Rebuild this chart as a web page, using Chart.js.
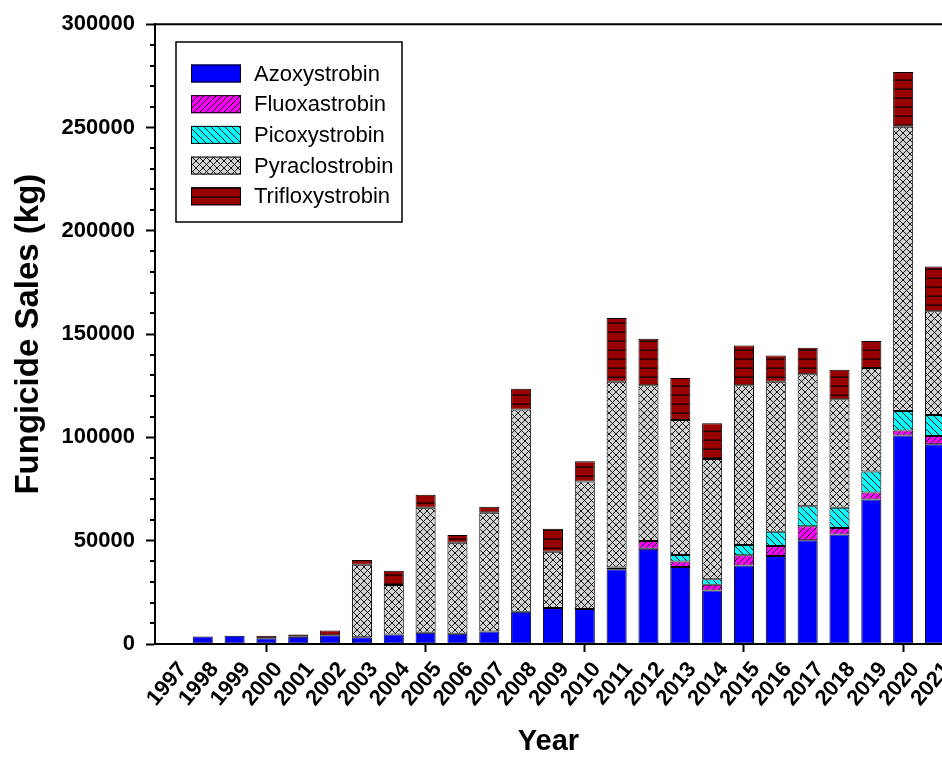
<!DOCTYPE html>
<html>
<head>
<meta charset="utf-8">
<script src="https://cdn.jsdelivr.net/npm/chart.js@4.4.1/dist/chart.umd.min.js"></script>
<style>
html,body{margin:0;padding:0;background:#fff;overflow:hidden}
#wrap{width:942px;height:782px;position:relative}
</style>
</head>
<body>
<div id="wrap"><canvas id="c" width="942" height="782"></canvas></div>
<script>
const years = [1997,1998,1999,2000,2001,2002,2003,2004,2005,2006,2007,2008,2009,2010,2011,2012,2013,2014,2015,2016,2017,2018,2019,2020,2021];
const azoxystrobin   = [0,3600,4000,2800,3500,4200,3300,4600,5500,5000,6000,15600,17400,16900,36200,46100,37300,25900,38000,42600,50200,53000,69900,100900,96700];
const fluoxastrobin  = [0,0,0,0,0,0,0,0,0,0,0,0,0,0,800,3700,2600,2750,5000,4800,6800,3200,3400,2500,4000];
const picoxystrobin  = [0,0,0,0,0,0,0,0,0,0,0,0,0,0,0,0,3200,2750,4900,6900,9700,9700,10200,9400,10100];
const pyraclostrobin = [0,0,0,0,0,0,35000,24000,60400,44000,57500,97900,27300,61800,89900,75500,65300,58200,77400,72600,63900,52600,50100,137600,50300];
const trifloxystrobin= [0,0,0,1200,1100,2300,2400,6800,6400,3700,2900,10100,11100,9700,30900,22400,20400,17200,19200,12800,12800,14300,13000,26500,21600];
const yTicks = [0,50000,100000,150000,200000,250000,300000];

const FONT = '"Liberation Sans", Arial, Helvetica, sans-serif';
const helper = document.createElement('canvas').getContext('2d');
function makePattern(bg, size, draw) {
  const c = document.createElement('canvas');
  c.width = size; c.height = size;
  const g = c.getContext('2d');
  g.fillStyle = bg; g.fillRect(0, 0, size, size);
  g.strokeStyle = '#000'; g.fillStyle = '#000'; g.lineWidth = 1;
  draw(g, size);
  return helper.createPattern(c, 'repeat');
}
function fwd(g, s) { g.beginPath(); g.moveTo(-1, s + 1); g.lineTo(s + 1, -1); g.moveTo(-1, 1); g.lineTo(1, -1); g.moveTo(s - 1, s + 1); g.lineTo(s + 1, s - 1); g.stroke(); }
function back(g, s) { g.beginPath(); g.moveTo(-1, -1); g.lineTo(s + 1, s + 1); g.moveTo(s - 1, -1); g.lineTo(s + 1, 1); g.moveTo(-1, s - 1); g.lineTo(1, s + 1); g.stroke(); }

const patBlue = '#0000FF';
const patMagenta = makePattern('#FF00FF', 6, fwd);
const patCyan = makePattern('#00FFFF', 7, back);
const patGray = makePattern('#D3D3D3', 7, (g, s) => { g.lineWidth = 0.9; fwd(g, s); back(g, s); });
const patRed = makePattern('#990000', 9, (g, s) => { g.fillStyle = '#2a0000'; g.fillRect(0, s - 1.6, s, 1.6); });

const nz = a => a.map(v => v === 0 ? null : v);
const barStyle = { borderColor: '#000', borderWidth: 1, borderSkipped: false, inflateAmount: 0, categoryPercentage: 1, barPercentage: 0.63 };

const legendPlugin = {
  id: 'boxLegend',
  afterDraw(chart) {
    const ctx = chart.ctx;
    ctx.save();
    ctx.strokeStyle = '#000'; ctx.lineWidth = 1.5;
    ctx.strokeRect(176, 42, 226, 180);
    chart.data.datasets.forEach((ds, i) => {
      const cy = 73.5 + i * 30.7;
      ctx.fillStyle = ds.backgroundColor;
      ctx.fillRect(191, cy - 9, 50, 18);
      ctx.lineWidth = 1; ctx.strokeStyle = '#000';
      ctx.strokeRect(191.5, cy - 8.5, 49, 17);
      ctx.fillStyle = '#000';
      ctx.font = '22px ' + FONT;
      ctx.textBaseline = 'middle'; ctx.textAlign = 'left';
      ctx.fillText(ds.label, 254, cy + 1);
    });
    ctx.restore();
  }
};
const framePlugin = {
  id: 'frame',
  afterDraw(chart) {
    const ctx = chart.ctx, a = chart.chartArea, y = chart.scales.y;
    ctx.save();
    ctx.strokeStyle = '#000'; ctx.lineWidth = 2;
    ctx.beginPath(); ctx.moveTo(a.left - 1, a.top); ctx.lineTo(a.right, a.top); ctx.stroke();
    ctx.beginPath();
    for (let v = 10000; v < 300000; v += 10000) {
      if (v % 50000 === 0) continue;
      const py = Math.round(y.getPixelForValue(v));
      ctx.moveTo(a.left - 5, py); ctx.lineTo(a.left, py);
    }
    ctx.stroke();
    ctx.restore();
  }
};

new Chart(document.getElementById('c'), {
  type: 'bar',
  data: {
    labels: years,
    datasets: [
      Object.assign({ label: 'Azoxystrobin', data: nz(azoxystrobin), backgroundColor: patBlue }, barStyle),
      Object.assign({ label: 'Fluoxastrobin', data: nz(fluoxastrobin), backgroundColor: patMagenta }, barStyle),
      Object.assign({ label: 'Picoxystrobin', data: nz(picoxystrobin), backgroundColor: patCyan }, barStyle),
      Object.assign({ label: 'Pyraclostrobin', data: nz(pyraclostrobin), backgroundColor: patGray }, barStyle),
      Object.assign({ label: 'Trifloxystrobin', data: nz(trifloxystrobin), backgroundColor: patRed }, barStyle)
    ]
  },
  options: {
    responsive: false,
    animation: false,
    devicePixelRatio: 1,
    layout: { padding: { top: 22, left: 0, right: 0, bottom: 0 } },
    plugins: { legend: { display: false }, tooltip: { enabled: false } },
    scales: {
      x: {
        type: 'linear', stacked: true, offset: false,
        min: 1996.5, max: 2021.22,
        afterBuildTicks: ax => { ax.ticks = years.map(v => ({ value: v })); },
        afterFit: s => { s.height = 138; s.paddingLeft = 0; s.paddingRight = 0; },
        ticks: { autoSkip: false, minRotation: 50, maxRotation: 50, padding: 5, labelOffset: 12, color: '#000',
                 font: { family: FONT, size: 22, weight: 'bold' }, callback: v => String(v) },
        grid: { offset: false, drawOnChartArea: false, drawTicks: true, tickLength: 8, tickWidth: 2,
                color: 'rgba(0,0,0,0)',
                tickColor: c => (c.tick && c.tick.value % 5 === 0) ? '#000' : 'rgba(0,0,0,0)' },
        border: { display: true, color: '#000', width: 2 },
        title: { display: true, text: 'Year', color: '#000', padding: { top: 0, bottom: 23 },
                 font: { family: FONT, size: 29, weight: 'bold', lineHeight: 1.2 } }
      },
      y: {
        stacked: true, min: 0, max: 300000,
        afterBuildTicks: ax => { ax.ticks = yTicks.map(v => ({ value: v })); },
        afterFit: s => { s.width = 155; },
        ticks: { padding: 11, color: '#000', font: { family: FONT, size: 22, weight: 'bold' }, callback: v => String(v) },
        grid: { drawOnChartArea: false, drawTicks: true, tickLength: 9, tickWidth: 2, tickColor: '#000', color: 'rgba(0,0,0,0)' },
        border: { display: true, color: '#000', width: 2 },
        title: { display: true, text: 'Fungicide Sales (kg)', color: '#000', padding: { top: 9, bottom: 0 },
                 font: { family: FONT, size: 33, weight: 'bold', lineHeight: 1.2 } }
      }
    }
  },
  plugins: [framePlugin, legendPlugin]
});
</script>
</body>
</html>
